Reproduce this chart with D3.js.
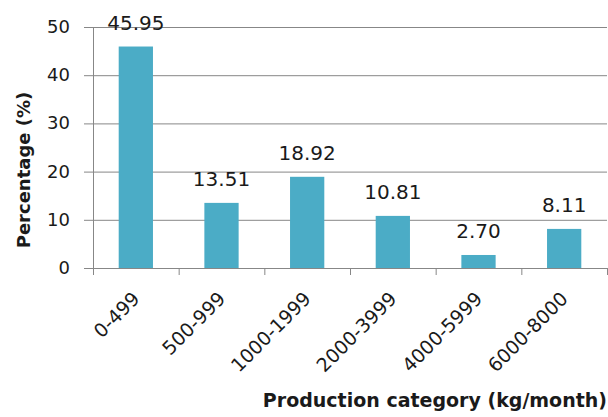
<!DOCTYPE html>
<html>
<head>
<meta charset="utf-8">
<script src="https://cdn.jsdelivr.net/npm/d3@7"></script>
<style>
  body { margin: 0; background: #fff; }
  text { font-family: "DejaVu Sans", sans-serif; fill: #1a1a1a; }
</style>
</head>
<body>
<div id="chart"></div>
<script>
// Data
const categories = ['0-499', '500-999', '1000-1999', '2000-3999', '4000-5999', '6000-8000'];
const percentages = [45.95, 13.51, 18.92, 10.81, 2.70, 8.11];
const yTicks = [0, 10, 20, 30, 40, 50];

const W = 608, H = 417;
const margin = { top: 27, right: 1, bottom: 149, left: 93 };
const width = W - margin.left - margin.right;
const height = H - margin.top - margin.bottom;

const svg = d3.select('#chart')
  .append('svg')
  .attr('width', W)
  .attr('height', H)
  .append('g')
  .attr('transform', `translate(${margin.left},${margin.top})`);

const x = d3.scaleBand()
  .domain(categories)
  .range([0, width])
  .paddingInner(0.6)
  .paddingOuter(0.3);

const y = d3.scaleLinear()
  .domain([0, 50])
  .range([height, 0]);

const gridColor = '#878787';

// Gridlines (with outward tick)
svg.append('g')
  .selectAll('line')
  .data(yTicks)
  .enter()
  .append('line')
  .attr('x1', -9)
  .attr('x2', width)
  .attr('y1', d => y(d) + 0.5)
  .attr('y2', d => y(d) + 0.5)
  .attr('stroke', gridColor);

// y axis line
svg.append('line')
  .attr('x1', 0.5).attr('x2', 0.5)
  .attr('y1', 0).attr('y2', height)
  .attr('stroke', gridColor);

// y tick labels
svg.append('g')
  .selectAll('text')
  .data(yTicks)
  .enter()
  .append('text')
  .attr('x', -23)
  .attr('y', d => y(d) + 6)
  .attr('text-anchor', 'end')
  .style('font-size', '18px')
  .text(d => d);

// x axis ticks at band boundaries
const boundaries = d3.range(categories.length + 1).map(i => i * x.step());
svg.append('g')
  .selectAll('line')
  .data(boundaries)
  .enter()
  .append('line')
  .attr('x1', d => d + 0.5).attr('x2', d => d + 0.5)
  .attr('y1', height).attr('y2', height + 7)
  .attr('stroke', gridColor);

// Bars
svg.selectAll('.bar')
  .data(percentages)
  .enter()
  .append('rect')
  .attr('class', 'bar')
  .attr('x', (d, i) => x(categories[i]))
  .attr('y', d => y(d))
  .attr('width', x.bandwidth())
  .attr('height', d => height - y(d))
  .attr('fill', '#4BACC6');

// Value labels
svg.selectAll('.val')
  .data(percentages)
  .enter()
  .append('text')
  .attr('class', 'val')
  .attr('x', (d, i) => x(categories[i]) + x.bandwidth() / 2)
  .attr('y', d => y(d) - 17)
  .attr('text-anchor', 'middle')
  .style('font-size', '20px')
  .text(d => d.toFixed(2));

// Category labels (rotated)
svg.selectAll('.cat')
  .data(categories)
  .enter()
  .append('text')
  .attr('class', 'cat')
  .attr('transform', d => `translate(${x(d) + x.bandwidth() / 2 + 5},${height + 32}) rotate(-45)`)
  .attr('text-anchor', 'end')
  .style('font-size', '19px')
  .text(d => d);

// Axis titles
svg.append('text')
  .attr('x', width)
  .attr('y', height + 139)
  .attr('text-anchor', 'end')
  .style('font-size', '19px')
  .style('font-weight', 'bold')
  .text('Production category (kg/month)');

svg.append('text')
  .attr('transform', 'rotate(-90)')
  .attr('x', -143)
  .attr('y', -63)
  .attr('text-anchor', 'middle')
  .style('font-size', '18px')
  .style('font-weight', 'bold')
  .text('Percentage (%)');
</script>
</body>
</html>
